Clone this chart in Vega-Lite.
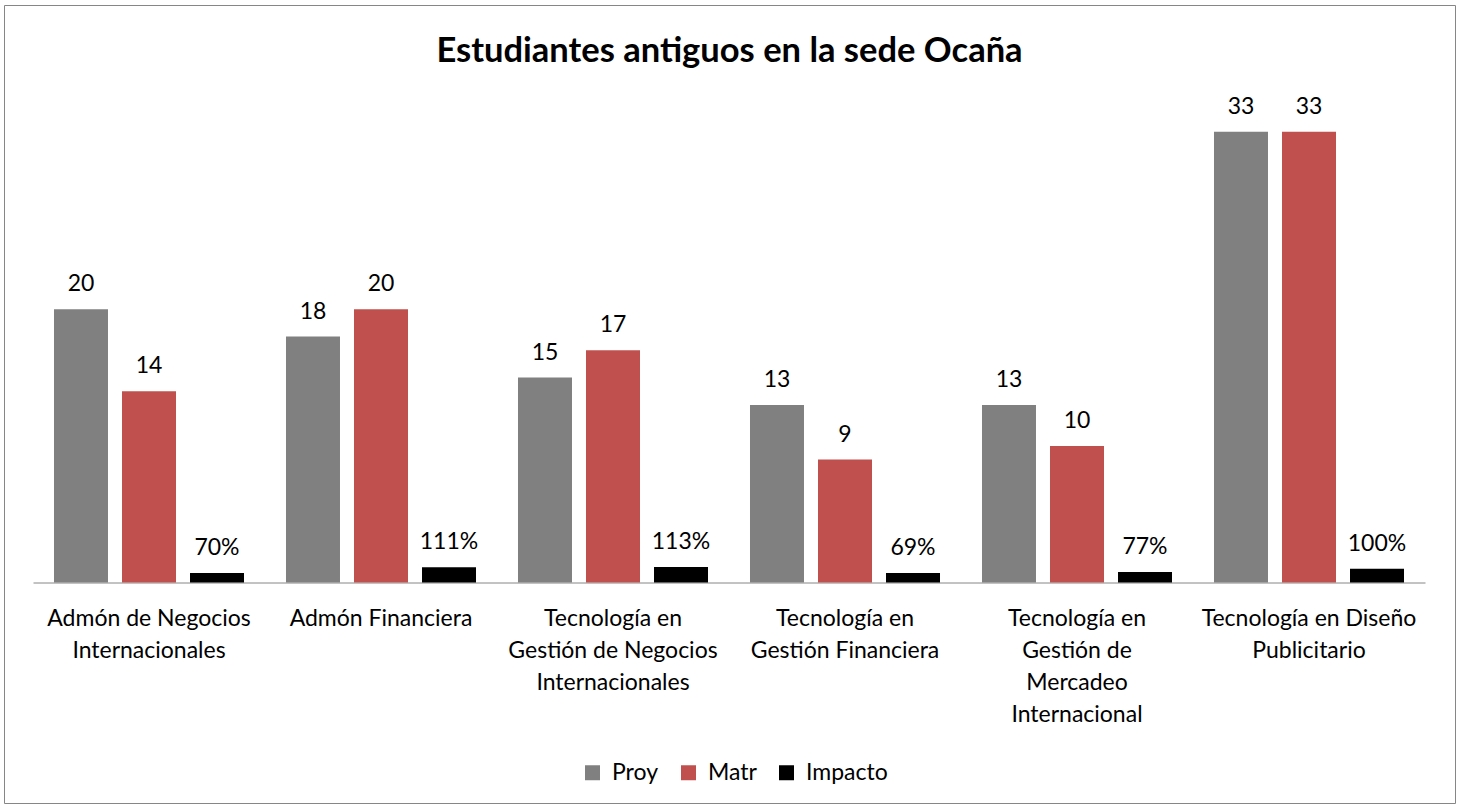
{
  "$schema": "https://vega.github.io/schema/vega-lite/v6.json",
  "width": 1451,
  "height": 798,
  "autosize": {"type": "none"},
  "padding": {"left": 4, "top": 5, "right": 5, "bottom": 5},
  "background": "white",
  "title": {
    "text": "Estudiantes antiguos en la sede Ocaña",
    "font": "Lato",
    "fontSize": 34.5,
    "fontWeight": "bold",
    "color": "#000000",
    "anchor": "middle",
    "frame": "group",
    "offset": -64
  },
  "data": {
    "values": [
      {"cat": "Admón de Negocios Internacionales", "serie": "Proy", "value": 20, "label": "20"},
      {"cat": "Admón de Negocios Internacionales", "serie": "Matr", "value": 14, "label": "14"},
      {"cat": "Admón de Negocios Internacionales", "serie": "Impacto", "value": 0.70, "label": "70%"},
      {"cat": "Admón Financiera", "serie": "Proy", "value": 18, "label": "18"},
      {"cat": "Admón Financiera", "serie": "Matr", "value": 20, "label": "20"},
      {"cat": "Admón Financiera", "serie": "Impacto", "value": 1.11, "label": "111%"},
      {"cat": "Tecnología en Gestión de Negocios Internacionales", "serie": "Proy", "value": 15, "label": "15"},
      {"cat": "Tecnología en Gestión de Negocios Internacionales", "serie": "Matr", "value": 17, "label": "17"},
      {"cat": "Tecnología en Gestión de Negocios Internacionales", "serie": "Impacto", "value": 1.13, "label": "113%"},
      {"cat": "Tecnología en Gestión Financiera", "serie": "Proy", "value": 13, "label": "13"},
      {"cat": "Tecnología en Gestión Financiera", "serie": "Matr", "value": 9, "label": "9"},
      {"cat": "Tecnología en Gestión Financiera", "serie": "Impacto", "value": 0.69, "label": "69%"},
      {"cat": "Tecnología en Gestión de Mercadeo Internacional", "serie": "Proy", "value": 13, "label": "13"},
      {"cat": "Tecnología en Gestión de Mercadeo Internacional", "serie": "Matr", "value": 10, "label": "10"},
      {"cat": "Tecnología en Gestión de Mercadeo Internacional", "serie": "Impacto", "value": 0.77, "label": "77%"},
      {"cat": "Tecnología en Diseño Publicitario", "serie": "Proy", "value": 33, "label": "33"},
      {"cat": "Tecnología en Diseño Publicitario", "serie": "Matr", "value": 33, "label": "33"},
      {"cat": "Tecnología en Diseño Publicitario", "serie": "Impacto", "value": 1.00, "label": "100%"}
    ]
  },
  "encoding": {
    "x": {
      "field": "cat",
      "type": "nominal",
      "sort": null,
      "scale": {"range": [29, 1421], "paddingInner": 0.181, "paddingOuter": 0.0905},
      "axis": {
        "orient": "bottom",
        "offset": -220.5,
        "title": null,
        "ticks": false,
        "domainColor": "#868686",
        "domainWidth": 1,
        "labelAngle": 0,
        "labelFont": "Lato",
        "labelFontSize": 23,
        "labelColor": "#000000",
        "labelPadding": 25,
        "labelLineHeight": 32,
        "labelLimit": 0,
        "labelOverlap": false,
        "labelBound": false,
        "labelExpr": "datum.value == 'Admón de Negocios Internacionales' ? ['Admón de Negocios', 'Internacionales'] : datum.value == 'Tecnología en Gestión de Negocios Internacionales' ? ['Tecnología en', 'Gestión de Negocios', 'Internacionales'] : datum.value == 'Tecnología en Gestión Financiera' ? ['Tecnología en', 'Gestión Financiera'] : datum.value == 'Tecnología en Gestión de Mercadeo Internacional' ? ['Tecnología en', 'Gestión de', 'Mercadeo', 'Internacional'] : datum.value == 'Tecnología en Diseño Publicitario' ? ['Tecnología en Diseño', 'Publicitario'] : datum.label"
      }
    },
    "xOffset": {
      "field": "serie",
      "type": "nominal",
      "sort": ["Proy", "Matr", "Impacto"],
      "scale": {"paddingInner": 0.206, "paddingOuter": 0}
    },
    "y": {
      "field": "value",
      "type": "quantitative",
      "scale": {"domain": [-16.141, 42.274], "nice": false, "zero": false},
      "axis": null
    }
  },
  "layer": [
    {
      "mark": {"type": "bar"},
      "encoding": {
        "y2": {"datum": 0},
        "color": {
          "field": "serie",
          "type": "nominal",
          "sort": ["Proy", "Matr", "Impacto"],
          "scale": {"domain": ["Proy", "Matr", "Impacto"], "range": ["#808080", "#C0504D", "#000000"]},
          "legend": {
            "orient": "none",
            "legendX": 577,
            "legendY": 756,
            "direction": "horizontal",
            "title": null,
            "symbolType": "square",
            "symbolSize": 225,
            "symbolStrokeWidth": 0,
            "symbolOpacity": 1,
            "labelFont": "Lato",
            "labelFontSize": 23,
            "labelColor": "#000000",
            "labelOffset": 8,
            "columnPadding": 18,
            "padding": 0
          }
        }
      }
    },
    {
      "mark": {"type": "text", "font": "Lato", "fontSize": 23, "color": "#000000", "baseline": "alphabetic", "align": "center", "dy": -18},
      "encoding": {
        "text": {"field": "label", "type": "nominal"}
      }
    }
  ],
  "config": {
    "view": {"stroke": "#868686", "strokeWidth": 1, "fill": "white"}
  }
}
